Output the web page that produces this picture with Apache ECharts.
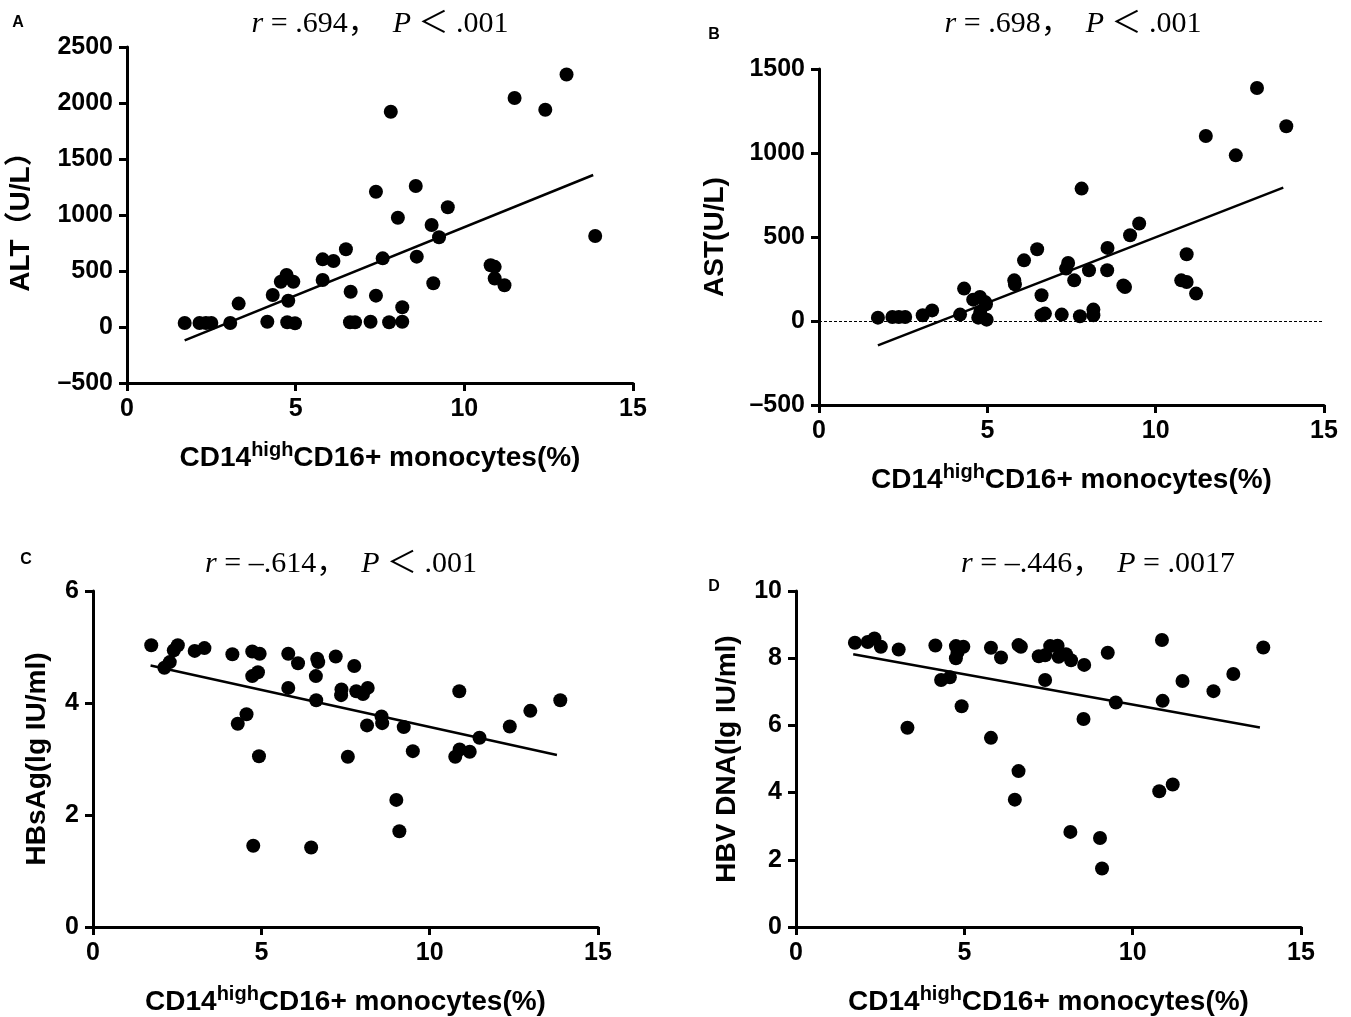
<!DOCTYPE html>
<html>
<head>
<meta charset="utf-8">
<script src="https://cdn.jsdelivr.net/npm/echarts@6/dist/echarts.min.js"></script>
<style>
html, body { margin: 0; padding: 0; background: #fff; }
#chart { width: 1351px; height: 1017px; }
</style>
</head>
<body>
<div id="chart"></div>
<script>
// values: [CD14highCD16+ monocytes %, value]
var alt_points = [
	[1.71,36],[2.15,36],[2.34,36],[2.50,36],[3.06,36],[3.31,209],[4.16,47],[4.32,286],[4.56,404],[4.73,464],
	[4.93,404],[4.78,235],[4.75,42],[4.98,33],[5.80,420],[5.80,604],[6.12,589],[6.49,694],[6.63,315],[6.61,42],
	[6.76,42],[7.22,47],[7.38,1208],[7.38,280],[7.58,613],[7.77,42],[7.82,1922],[8.03,976],[8.16,176],[8.16,47],
	[8.56,1259],[8.59,628],[9.03,911],[9.08,390],[9.25,801],[9.51,1069],[10.78,552],[10.90,537],[10.90,433],[11.19,373],
	[11.49,2045],[12.40,1940],[13.03,2254],[13.88,812]
];
var alt_fit = [[1.71,-120],[13.82,1357]];

var ast_points = [
	[1.75,20],[2.18,24],[2.37,24],[2.56,24],[3.08,34],[3.36,63],[4.19,38],[4.31,193],[4.58,127],[4.78,143],
	[4.93,113],[4.96,100],[4.79,54],[4.73,20],[4.98,8],[5.80,242],[5.82,218],[6.09,361],[6.48,427],[6.61,153],
	[6.61,34],[6.71,44],[7.21,38],[7.40,345],[7.34,312],[7.58,242],[7.80,788],[7.75,28],[8.02,302],[8.15,68],
	[8.15,34],[8.57,435],[8.56,302],[9.04,212],[9.09,202],[9.24,510],[9.51,580],[10.76,242],[10.92,397],[10.92,232],
	[11.20,163],[11.49,1101],[12.38,986],[13.01,1387],[13.88,1159]
];
var ast_fit = [[1.75,-145],[13.79,794]];

var hbsag_points = [
	[1.73,5.03],[2.12,4.63],[2.28,4.73],[2.40,4.94],[2.52,5.03],[3.02,4.93],[3.31,4.98],[4.14,4.87],[4.30,3.63],[4.56,3.80],
	[4.73,4.92],[4.95,4.88],[4.73,4.48],[4.90,4.55],[4.93,3.05],[4.76,1.45],[5.80,4.88],[6.09,4.71],[5.80,4.27],[6.66,4.79],
	[6.69,4.73],[6.62,4.48],[6.63,4.05],[6.48,1.42],[7.21,4.83],[7.76,4.66],[7.38,4.24],[7.37,4.14],[7.57,3.04],[7.82,4.21],
	[8.02,4.16],[8.16,4.27],[8.14,3.60],[8.57,3.76],[8.59,3.64],[9.23,3.57],[9.50,3.14],[9.01,2.27],[9.10,1.71],[10.88,4.21],
	[10.76,3.04],[10.89,3.17],[11.19,3.13],[11.48,3.38],[12.38,3.58],[12.99,3.86],[13.88,4.05]
];
var hbsag_fit = [[1.71,4.67],[13.78,3.07]];

var hbvdna_points = [
	[1.75,8.46],[2.13,8.48],[2.33,8.59],[2.52,8.34],[3.05,8.26],[3.31,5.93],[4.14,8.38],[4.31,7.35],[4.57,7.43],[4.75,8.36],
	[4.97,8.34],[4.75,8.00],[4.80,8.18],[4.92,6.57],[5.79,8.31],[6.09,8.02],[5.79,5.63],[6.61,8.39],[6.68,8.34],[6.61,4.64],
	[6.50,3.79],[7.21,8.06],[7.40,8.09],[7.55,8.36],[7.77,8.37],[7.80,8.04],[8.02,8.12],[8.17,7.94],[7.40,7.35],[8.56,7.80],
	[8.54,6.19],[8.15,2.83],[9.26,8.16],[9.50,6.68],[9.03,2.65],[9.09,1.74],[10.87,8.54],[10.89,6.73],[10.79,4.04],[11.19,4.24],
	[11.48,7.32],[12.40,7.02],[12.99,7.53],[13.88,8.32]
];
var hbvdna_fit = [[1.70,8.12],[13.78,5.94]];

var x_range = [0, 15, 5];
var y_ranges = [[-500, 2500, 500], [-500, 1500, 500], [0, 6, 2], [0, 10, 2]];
var y_names = ['ALT（U/L）', 'AST(U/L)', 'HBsAg(lg IU/ml)', 'HBV DNA(lg IU/ml)'];
var panel_letters = ['A', 'B', 'C', 'D'];
var panel_titles = [
	'{i|r} = .694，  {i|P} ＜ .001',
	'{i|r} = .698，  {i|P} ＜ .001',
	'{i|r} = –.614，  {i|P} ＜ .001',
	'{i|r} = –.446，  {i|P} = .0017'
];
var x_name = '{n|CD14}{s|high}{n|CD16+ monocytes(%)}';

// layout of the four panels (grid kept fixed, labels may reach the edge)
var grids = [
	{ left: 127, top: 47, width: 506, height: 336, outerBoundsMode: 'none', containLabel: false },
	{ left: 819, top: 69, width: 505, height: 336, outerBoundsMode: 'none', containLabel: false },
	{ left: 93, top: 591, width: 505, height: 336, outerBoundsMode: 'none', containLabel: false },
	{ left: 796, top: 591, width: 505, height: 336, outerBoundsMode: 'none', containLabel: false }
];
var y_name_gaps = [92, 90, 42, 55];
var title_pos = [[380, 24], [1073, 24], [341, 564], [1098, 564]];
var letter_pos = [[18, 23], [714, 35], [26, 560], [714, 587]];

var sans = 'Liberation Sans, Arial, Noto Sans CJK SC, sans-serif';
var serif = 'Liberation Serif, Times New Roman, Noto Sans CJK SC, serif';

var chart = echarts.init(document.getElementById('chart'));

var x_axes = [], y_axes = [], series = [], graphics = [];
var all_points = [alt_points, ast_points, hbsag_points, hbvdna_points];
var all_fits = [alt_fit, ast_fit, hbsag_fit, hbvdna_fit];

for (var i = 0; i < 4; i++) {
	x_axes.push({
		gridIndex: i,
		type: 'value',
		min: x_range[0], max: x_range[1], interval: x_range[2],
		name: x_name,
		nameLocation: 'middle',
		nameGap: 57,
		nameTextStyle: {
			rich: {
				n: { fontFamily: sans, fontWeight: 'bold', fontSize: 28, color: '#000', lineHeight: 36 },
				s: { fontFamily: sans, fontWeight: 'bold', fontSize: 20, color: '#000', verticalAlign: 'top', lineHeight: 36, padding: [0, 0, 15, 0] }
			}
		},
		axisLine: { onZero: false, lineStyle: { color: '#000', width: 3 } },
		axisTick: { length: 8, lineStyle: { color: '#000', width: 3 } },
		axisLabel: { margin: 14, color: '#000', fontFamily: sans, fontWeight: 'bold', fontSize: 25 },
		splitLine: { show: false }
	});
	y_axes.push({
		gridIndex: i,
		type: 'value',
		min: y_ranges[i][0], max: y_ranges[i][1], interval: y_ranges[i][2],
		name: y_names[i],
		nameLocation: 'middle',
		nameGap: y_name_gaps[i],
		nameTextStyle: { fontFamily: sans, fontWeight: 'bold', fontSize: 28, color: '#000' },
		axisLine: { show: true, onZero: false, lineStyle: { color: '#000', width: 3 } },
		axisTick: { show: true, length: 8, lineStyle: { color: '#000', width: 3 } },
		axisLabel: {
			margin: 14, color: '#000', fontFamily: sans, fontWeight: 'bold', fontSize: 25,
			formatter: function (v) { return String(v).replace('-', '–'); }
		},
		splitLine: { show: false }
	});
	series.push({
		type: 'scatter',
		xAxisIndex: i, yAxisIndex: i,
		symbol: 'circle',
		symbolSize: 14,
		itemStyle: { color: '#000', opacity: 1 },
		data: all_points[i],
		z: 3
	});
	var fit_series = {
		type: 'line',
		xAxisIndex: i, yAxisIndex: i,
		symbol: 'none',
		lineStyle: { color: '#000', width: 2.5 },
		data: all_fits[i],
		z: 2
	};
	if (i === 1) {
		// dotted zero line in panel B
		fit_series.markLine = {
			silent: true,
			symbol: 'none',
			label: { show: false },
			lineStyle: { color: '#000', width: 1, type: [3, 2] },
			data: [{ yAxis: 0 }]
		};
	}
	series.push(fit_series);

	graphics.push({
		type: 'text',
		x: title_pos[i][0], y: title_pos[i][1],
		style: {
			text: panel_titles[i],
			fill: '#000',
			font: '30px ' + serif,
			align: 'center', verticalAlign: 'middle',
			rich: { i: { fontFamily: serif, fontStyle: 'italic', fontSize: 30, fill: '#000' } }
		}
	});
	graphics.push({
		type: 'text',
		x: letter_pos[i][0], y: letter_pos[i][1],
		style: {
			text: panel_letters[i],
			fill: '#000',
			font: 'bold 16px ' + sans,
			align: 'center', verticalAlign: 'middle'
		}
	});
}

chart.setOption({
	backgroundColor: '#fff',
	animation: false,
	grid: grids,
	xAxis: x_axes,
	yAxis: y_axes,
	series: series,
	graphic: graphics
});
</script>
</body>
</html>
